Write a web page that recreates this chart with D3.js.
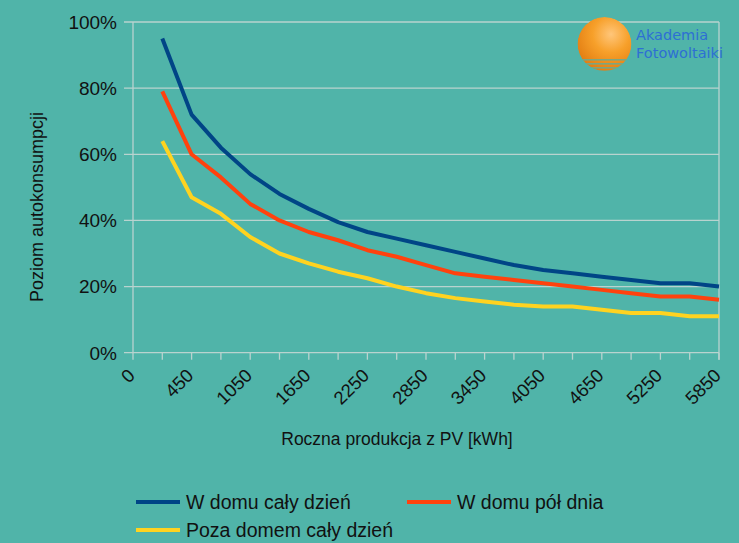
<!DOCTYPE html>
<html><head><meta charset="utf-8">
<script src="https://cdn.jsdelivr.net/npm/d3@7"></script>
<style>html,body{margin:0;padding:0;background:#50b4a9;} svg{display:block}</style>
</head><body><svg id="c" width="739" height="543"></svg>
<script>
const categories = ["0","150","450","750","1050","1350","1650","1950","2250","2550","2850","3150","3450","3750","4050","4350","4650","4950","5250","5550","5850"];
const shownLabels = ["0","450","1050","1650","2250","2850","3450","4050","4650","5250","5850"];
const yTicks = [0,20,40,60,80,100];
const seriesNames = ["W domu cały dzień","W domu pół dnia","Poza domem cały dzień"];
const seriesColors = ["#004586","#ff420e","#ffd320"];
const valuesFullDay = [null,95,72,62,54,48,43.5,39.5,36.5,34.5,32.5,30.5,28.5,26.5,25,24,23,22,21,21,20];
const valuesHalfDay = [null,79,60,53,45,40,36.5,34,31,29,26.5,24,23,22,21,20,19,18,17,17,16];
const valuesAway    = [null,64,47,42,35,30,27,24.5,22.5,20,18,16.5,15.5,14.5,14,14,13,12,12,11,11];
const seriesValues = [valuesFullDay, valuesHalfDay, valuesAway];

const svg = d3.select("#c");
const L = 133, R = 719, T = 22, B = 352.7;
const x = d3.scalePoint().domain(categories).range([L, R]);
const y = d3.scaleLinear().domain([0, 100]).range([B, T]);
const font = "'Liberation Sans', Arial, sans-serif";
const gridColor = "#b9d3cf";

svg.append("rect").attr("width",739).attr("height",543).attr("fill","#50b4a9");

// grid + y ticks
svg.append("g").selectAll("line").data(yTicks).join("line")
  .attr("x1", L - 9).attr("x2", R)
  .attr("y1", d => y(d)).attr("y2", d => y(d))
  .attr("stroke", gridColor).attr("stroke-width", 1.3);
// vertical axis & right border
svg.append("line").attr("x1",L).attr("x2",L).attr("y1",T).attr("y2",B).attr("stroke",gridColor).attr("stroke-width",1.3);
svg.append("line").attr("x1",R).attr("x2",R).attr("y1",T).attr("y2",B+7).attr("stroke",gridColor).attr("stroke-width",1.3);
// x ticks
svg.append("g").selectAll("line").data(categories).join("line")
  .attr("x1", d => x(d)).attr("x2", d => x(d))
  .attr("y1", B).attr("y2", B + 7)
  .attr("stroke", gridColor).attr("stroke-width", 1.3);

// y labels
svg.append("g").selectAll("text").data(yTicks).join("text")
  .attr("x", 117).attr("y", d => y(d)).attr("dy","0.36em")
  .attr("text-anchor","end").attr("font-family",font).attr("font-size",19).attr("fill","#111")
  .text(d => d + "%");

// x labels
svg.append("g").selectAll("text").data(shownLabels).join("text")
  .attr("transform", d => `translate(${x(d)+3},${B+24}) rotate(-45)`)
  .attr("text-anchor","end").attr("font-family",font).attr("font-size",18.5).attr("fill","#111")
  .text(d => d);

// axis titles
svg.append("text").attr("x",397).attr("y",445).attr("text-anchor","middle")
  .attr("font-family",font).attr("font-size",17.5).attr("fill","#111")
  .text("Roczna produkcja z PV [kWh]");
svg.append("text").attr("transform","translate(43,207) rotate(-90)").attr("text-anchor","middle")
  .attr("font-family",font).attr("font-size",18).attr("fill","#111")
  .text("Poziom autokonsumpcji");

// lines
const line = d3.line().defined(d => d.v != null).x(d => x(d.c)).y(d => y(d.v));
seriesValues.forEach((vals, i) => {
  svg.append("path")
    .datum(vals.map((v, k) => ({c: categories[k], v})))
    .attr("d", line).attr("fill","none")
    .attr("stroke", seriesColors[i]).attr("stroke-width", 4)
    .attr("stroke-linejoin","round");
});

// legend
const legendPos = [[136,502],[407,502],[136,530]];
seriesNames.forEach((n, i) => {
  const [lx, ly] = legendPos[i];
  svg.append("line").attr("x1",lx).attr("x2",lx+44).attr("y1",ly).attr("y2",ly)
    .attr("stroke",seriesColors[i]).attr("stroke-width",4);
  svg.append("text").attr("x",lx+50).attr("y",ly+7).attr("font-family",font)
    .attr("font-size",19.5).attr("fill","#111").text(n);
});

// logo
const defs = svg.append("defs");
const grad = defs.append("radialGradient").attr("id","sun").attr("cx","0.62").attr("cy","0.32").attr("r","0.75");
grad.append("stop").attr("offset","0").attr("stop-color","#ffc67a");
grad.append("stop").attr("offset","0.45").attr("stop-color","#f7a02a");
grad.append("stop").attr("offset","1").attr("stop-color","#e07a10");
defs.append("clipPath").attr("id","sunclip").append("circle").attr("cx",604.5).attr("cy",44).attr("r",27);
const lg = svg.append("g").attr("clip-path","url(#sunclip)");
lg.append("circle").attr("cx",604.5).attr("cy",44).attr("r",27).attr("fill","url(#sun)");
[59,63,67,70.5].forEach((yy,k) => {
  lg.append("rect").attr("x",570).attr("y",yy).attr("width",70).attr("height",1.6)
    .attr("fill","#6fa88c").attr("opacity",0.9);
});
svg.append("text").attr("x",636).attr("y",40).attr("font-family","'DejaVu Sans', sans-serif")
  .attr("font-size",14.5).attr("font-weight",500).attr("fill","#2d6fd4").text("Akademia");
svg.append("text").attr("x",636).attr("y",58).attr("font-family","'DejaVu Sans', sans-serif")
  .attr("font-size",14.5).attr("font-weight",500).attr("fill","#2d6fd4").text("Fotowoltaiki");
</script></body></html>
